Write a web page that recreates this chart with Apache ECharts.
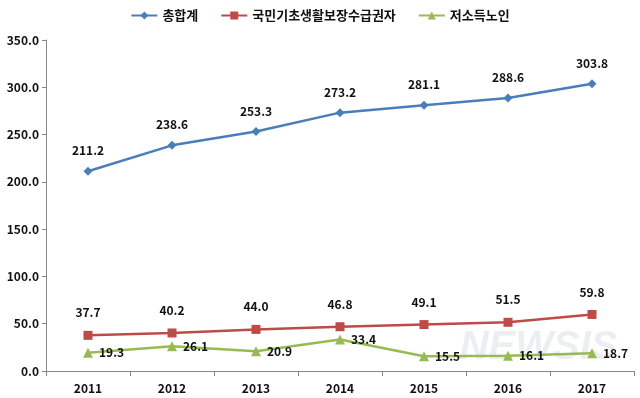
<!DOCTYPE html>
<html>
<head>
<meta charset="utf-8">
<script src="https://cdn.jsdelivr.net/npm/echarts@6/dist/echarts.min.js"></script>
<style>
  html, body { margin: 0; padding: 0; background: #fff; }
  #chart { width: 640px; height: 398px; }
</style>
</head>
<body>
<div id="chart"></div>
<script>
// 연도
const years = ['2011', '2012', '2013', '2014', '2015', '2016', '2017']
// 시리즈 값
const totalValues = [211.2, 238.6, 253.3, 273.2, 281.1, 288.6, 303.8]
const basicValues = [37.7, 40.2, 44.0, 46.8, 49.1, 51.5, 59.8]
const lowIncomeValues = [19.3, 26.1, 20.9, 33.4, 15.5, 16.1, 18.7]
const seriesNames = ['총합계', '국민기초생활보장수급권자', '저소득노인']

const labelStyle = {
  show: true,
  color: '#111',
  fontWeight: 'bold',
  fontSize: 12,
  fontFamily: 'Noto Sans CJK KR',
  formatter: p => p.value.toFixed(1)
}

const myChart = echarts.init(document.getElementById('chart'))

const option = {
  animation: false,
  textStyle: { fontFamily: 'Noto Sans CJK KR' },
  legend: {
    top: 4,
    left: 'center',
    itemGap: 22,
    itemWidth: 26,
    itemHeight: 10,
    textStyle: { fontSize: 13, color: '#111', fontWeight: 'bold' },
    data: seriesNames
  },
  grid: { left: 46, right: 6, top: 40, bottom: 27 },
  xAxis: {
    type: 'category',
    data: years,
    boundaryGap: true,
    axisLine: { lineStyle: { color: '#868686', width: 1 } },
    axisTick: { show: true, length: 5, lineStyle: { color: '#868686' } },
    axisLabel: { color: '#111', fontWeight: 'bold', fontSize: 12, margin: 11 }
  },
  yAxis: {
    type: 'value',
    min: 0,
    max: 350,
    interval: 50,
    splitLine: { show: false },
    axisLine: { show: true, lineStyle: { color: '#868686', width: 1 } },
    axisTick: { show: true, length: 4, lineStyle: { color: '#868686' } },
    axisLabel: {
      color: '#111',
      fontWeight: 'bold',
      fontSize: 12,
      margin: 7,
      formatter: v => v.toFixed(1)
    }
  },
  graphic: [{
    type: 'text',
    right: 22,
    bottom: 30,
    silent: true,
    style: {
      text: 'NEWSIS',
      fontSize: 40,
      fontStyle: 'italic',
      fontWeight: 'bold',
      fill: 'rgba(200,205,215,0.35)',
      stroke: 'rgba(255,255,255,0.6)',
      lineWidth: 1
    }
  }],
  series: [
    {
      name: seriesNames[0],
      type: 'line',
      data: totalValues,
      symbol: 'diamond',
      symbolSize: 9,
      color: '#4A7EBB',
      lineStyle: { width: 2.5 },
      label: Object.assign({ position: 'top', distance: 10 }, labelStyle)
    },
    {
      name: seriesNames[1],
      type: 'line',
      data: basicValues,
      symbol: 'rect',
      symbolSize: 9,
      color: '#BE4B48',
      lineStyle: { width: 2.5 },
      label: Object.assign({ position: 'top', distance: 12 }, labelStyle)
    },
    {
      name: seriesNames[2],
      type: 'line',
      data: lowIncomeValues,
      symbol: 'triangle',
      symbolSize: 10,
      color: '#98B954',
      lineStyle: { width: 2.5 },
      label: Object.assign({ position: 'right', distance: 6 }, labelStyle)
    }
  ]
}

myChart.setOption(option)
</script>
</body>
</html>
